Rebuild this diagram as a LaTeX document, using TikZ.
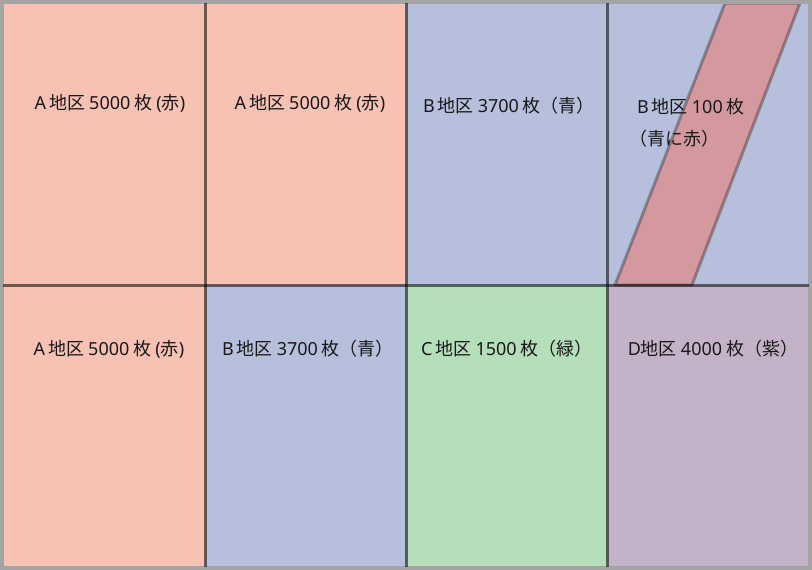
\documentclass[tikz,border=0pt]{standalone}
\usepackage{fontspec}
\setmainfont{Noto Sans CJK JP}
\newfontfamily\lat{Noto Sans}
\definecolor{cred}{HTML}{F7C1B3}
\definecolor{cblue}{HTML}{B6BFDC}
\definecolor{cgreen}{HTML}{B5DFBB}
\definecolor{cpurple}{HTML}{C4B2C9}
\definecolor{cband}{HTML}{D4999E}
\definecolor{outerline}{HTML}{A4A4A4}
\begin{document}
\begin{tikzpicture}[x=1pt,y=-1pt,
  lbl/.style={font=\fontsize{18}{21}\selectfont, inner sep=0pt, text=black!90},
  cellline/.style={draw=black, draw opacity=0.55, line width=3pt},
  outer/.style={draw=outerline, line width=3.5pt}]
\useasboundingbox (0,0) rectangle (812,570);
% cell fills
\fill[cred]    (3,3) rectangle (205,285);
\fill[cred]    (205,3) rectangle (406,285);
\fill[cblue]   (406,3) rectangle (607,285);
\fill[cblue]   (607,3) rectangle (809,285);
\fill[cred]    (3,285) rectangle (205,567);
\fill[cblue]   (205,285) rectangle (406,567);
\fill[cgreen]  (406,285) rectangle (607,567);
\fill[cpurple] (607,285) rectangle (809,567);
% band
\coordinate (b1) at (725,3);
\coordinate (b2) at (800,3);
\coordinate (b3) at (692,285);
\coordinate (b4) at (615,285);
\fill[cband] (b1) -- (b2) -- (b3) -- (b4) -- cycle;
\draw[draw=black, draw opacity=0.3, line width=3pt, line join=round] (b1) -- (b2) -- (b3) -- (b4) -- cycle;
% outer border
\draw[outer] (2,2) rectangle (810,568);
% inner grid
\draw[cellline] (205,3) -- (205,567);
\draw[cellline] (406,3) -- (406,567);
\draw[cellline] (607,3) -- (607,567);
\draw[cellline] (3,285) -- (809,285);
% labels
\node[lbl] (t1) at (110,103) {{\lat A}\,地区 {\lat 5000} 枚 {\lat (}赤{\lat )}};
\node[lbl] (t2) at (310,103) {{\lat A}\,地区 {\lat 5000} 枚 {\lat (}赤{\lat )}};
\node[lbl] (t3) at (509,106) {{\lat B}\,地区 {\lat 3700} 枚（青）};
\node[lbl, anchor=west] (t4) at (637,107) {{\lat B}\,地区 {\lat 100} 枚};
\node[lbl, anchor=west] (t4b) at (629,139) {（青に赤）};
\node[lbl] (t5) at (109,349) {{\lat A}\,地区 {\lat 5000} 枚 {\lat (}赤{\lat )}};
\node[lbl] (t6) at (308,349) {{\lat B}\,地区 {\lat 3700} 枚（青）};
\node[lbl] (t7) at (507,349) {{\lat C}\,地区 {\lat 1500} 枚（緑）};
\node[lbl] (t8) at (713,349) {{\lat D}地区 {\lat 4000} 枚（紫）};
\end{tikzpicture}
\end{document}
